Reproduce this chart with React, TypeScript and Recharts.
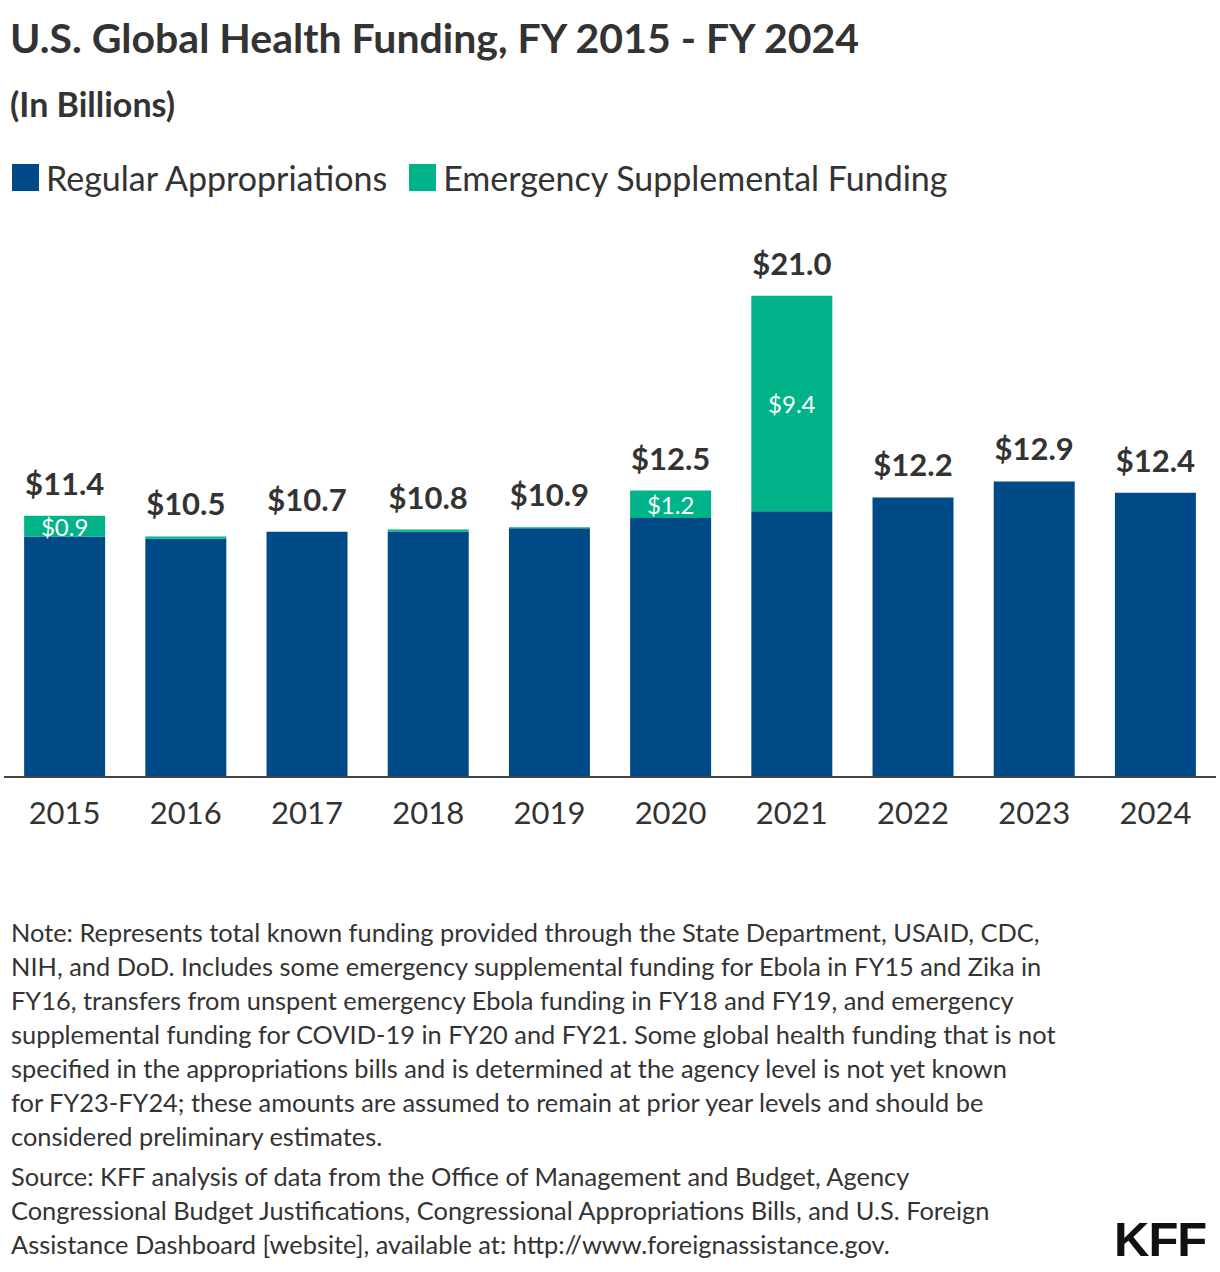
import React from "react";
import { BarChart, Bar, XAxis, YAxis, LabelList } from "recharts";

const years = ["2015", "2016", "2017", "2018", "2019", "2020", "2021", "2022", "2023", "2024"];
const regular = [10.5, 10.4, 10.7, 10.7, 10.85, 11.3, 11.6, 12.2, 12.9, 12.4];
const emergency = [0.9, 0.1, 0, 0.1, 0.05, 1.2, 9.4, 0, 0, 0];
const totals = [11.4, 10.5, 10.7, 10.8, 10.9, 12.5, 21.0, 12.2, 12.9, 12.4];

const NAVY = "#004A87";
const GREEN = "#00B389";
const TEXT = "#333333";
const FONT = "Lato, 'Open Sans', sans-serif";

const data = years.map((y, i) => ({
  year: y,
  regular: regular[i],
  emergency: emergency[i],
  total: totals[i],
}));

const noteLines = [
  "Note: Represents total known funding provided through the State Department, USAID, CDC,",
  "NIH, and DoD. Includes some emergency supplemental funding for Ebola in FY15 and Zika in",
  "FY16, transfers from unspent emergency Ebola funding in FY18 and FY19, and emergency",
  "supplemental funding for COVID-19 in FY20 and FY21. Some global health funding that is not",
  "specified in the appropriations bills and is determined at the agency level is not yet known",
  "for FY23-FY24; these amounts are assumed to remain at prior year levels and should be",
  "considered preliminary estimates.",
];
const sourceLines = [
  "Source: KFF analysis of data from the Office of Management and Budget, Agency",
  "Congressional Budget Justifications, Congressional Appropriations Bills, and U.S. Foreign",
  "Assistance Dashboard [website], available at: http://www.foreignassistance.gov.",
];

// Rendered on the "regular" series (always non-zero); the total's top is found
// by extending the bar with the emergency value through the same px-per-unit ratio.
const TotalLabel = (props: any) => {
  const { x, y, width, height, value, index } = props;
  const pxPerUnit = Number(height) / Number(value);
  const top = y - emergency[index] * pxPerUnit;
  return (
    <text
      x={x + width / 2}
      y={top - 33}
      textAnchor="middle"
      dominantBaseline="central"
      fill={TEXT}
      fontSize={31}
      fontWeight={700}
      fontFamily={FONT}
    >
      {"$" + totals[index].toFixed(1)}
    </text>
  );
};

const InnerLabel = (props: any) => {
  const { x, y, width, height, value } = props;
  if (value < 0.5) return null;
  return (
    <text
      x={x + width / 2}
      y={y + height / 2}
      textAnchor="middle"
      dominantBaseline="central"
      fill="#ffffff"
      fontSize={24}
      fontFamily={FONT}
    >
      {"$" + Number(value).toFixed(1)}
    </text>
  );
};

const Tick = (props: any) => {
  const { x, y, payload } = props;
  return (
    <text
      x={x}
      y={y + 27}
      textAnchor="middle"
      dominantBaseline="central"
      fill={TEXT}
      fontSize={31}
      fontFamily={FONT}
    >
      {payload.value}
    </text>
  );
};

export default function App() {
  return (
    <div
      style={{
        position: "absolute",
        left: 0,
        top: 0,
        width: 1220,
        height: 1272,
        background: "#fff",
        fontFamily: FONT,
        color: TEXT,
        overflow: "hidden",
      }}
    >
      <div style={{ position: "absolute", left: 10, top: 14, fontSize: 41, fontWeight: 700, lineHeight: "48px", whiteSpace: "nowrap" }}>
        U.S. Global Health Funding, FY 2015 - FY 2024
      </div>
      <div style={{ position: "absolute", left: 10, top: 85, fontSize: 34, fontWeight: 700, lineHeight: "38px", whiteSpace: "nowrap" }}>
        (In Billions)
      </div>
      <div style={{ position: "absolute", left: 12, top: 158, height: 38, display: "flex", alignItems: "center", fontSize: 34, whiteSpace: "nowrap" }}>
        <span style={{ display: "inline-block", width: 27, height: 27, background: NAVY, marginRight: 7 }} />
        <span>Regular Appropriations</span>
        <span style={{ display: "inline-block", width: 27, height: 27, background: GREEN, marginLeft: 22, marginRight: 7 }} />
        <span>Emergency Supplemental Funding</span>
      </div>

      <div style={{ position: "absolute", left: 0, top: 0 }}>
        <BarChart
          width={1220}
          height={837}
          data={data}
          margin={{ top: 227, right: 4, bottom: 0, left: 4 }}
          barCategoryGap="16.6%"
        >
          <XAxis
            dataKey="year"
            tickLine={false}
            axisLine={{ stroke: "#444", strokeWidth: 2 }}
            tick={<Tick />}
            height={60}
            interval={0}
          />
          <YAxis hide domain={[0, 24]} />
          <Bar dataKey="regular" stackId="a" fill={NAVY} isAnimationActive={false}>
            <LabelList dataKey="regular" content={<TotalLabel />} />
          </Bar>
          <Bar dataKey="emergency" stackId="a" fill={GREEN} isAnimationActive={false}>
            <LabelList dataKey="emergency" content={<InnerLabel />} />
          </Bar>
        </BarChart>
      </div>

      <div style={{ position: "absolute", left: 11, top: 915, fontSize: 25.4, lineHeight: "34px", whiteSpace: "nowrap" }}>
        {noteLines.map((l, i) => (
          <div key={i}>{l}</div>
        ))}
      </div>
      <div style={{ position: "absolute", left: 11, top: 1159, fontSize: 25.4, lineHeight: "34px", whiteSpace: "nowrap" }}>
        {sourceLines.map((l, i) => (
          <div key={i}>{l}</div>
        ))}
      </div>
      <div style={{ position: "absolute", left: 1114, top: 1215, fontSize: 49, fontWeight: 900, color: "#111", lineHeight: "48px", fontFamily: "'Liberation Sans', Arial, sans-serif", letterSpacing: -1 }}>
        KFF
      </div>
    </div>
  );
}
